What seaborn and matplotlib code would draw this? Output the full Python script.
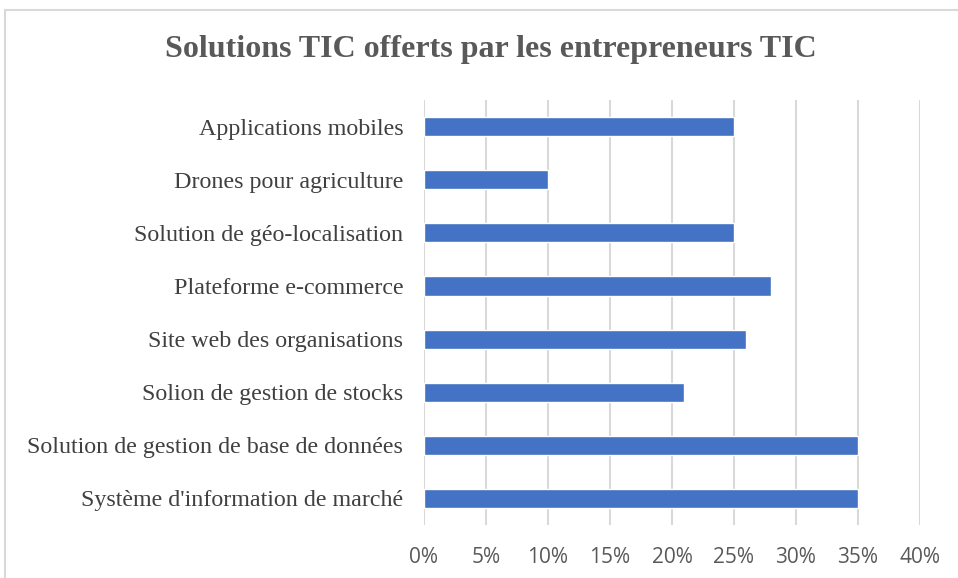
import matplotlib
matplotlib.use("Agg")
import matplotlib.pyplot as plt
import seaborn as sns
import pandas as pd
from matplotlib.patches import Rectangle
from matplotlib.ticker import FuncFormatter

categories = [
    "Applications mobiles",
    "Drones pour agriculture",
    "Solution de géo-localisation",
    "Plateforme e-commerce",
    "Site web des organisations",
    "Solion de gestion de stocks",
    "Solution de gestion de base de données",
    "Système d'information de marché",
]
values = [0.25, 0.10, 0.25, 0.28, 0.26, 0.21, 0.35, 0.35]
xticks = [0, 0.05, 0.10, 0.15, 0.20, 0.25, 0.30, 0.35, 0.40]

df = pd.DataFrame({"cat": categories, "val": values})

sns.set_theme(style="white")
plt.rcParams["font.family"] = ["Liberation Serif", "DejaVu Serif"]

fig = plt.figure(figsize=(9.58, 5.78), dpi=100)
ax = fig.add_axes([424/958, 1-525/578, 496/958, 425/578])

sns.barplot(data=df, x="val", y="cat", orient="h", color="#4472C4",
            saturation=1, width=0.36, ax=ax, zorder=3)

ax.set_xlim(0, 0.40)
ax.set_ylim(7.5, -0.5)
ax.set_xticks(xticks)
ax.xaxis.set_major_formatter(FuncFormatter(lambda v, p: f"{round(v*100)}%"))
ax.grid(axis="x", color="#d9d9d9", linewidth=1.5, zorder=0)
ax.grid(axis="y", visible=False)
for s in ax.spines.values():
    s.set_visible(False)
ax.set_xlabel("")
ax.set_ylabel("")
ax.tick_params(axis="both", length=0)
ax.tick_params(axis="x", pad=16)
ax.tick_params(axis="y", pad=15)
for lab in ax.get_xticklabels():
    lab.set_fontfamily(["Open Sans", "DejaVu Sans"])
    lab.set_fontsize(15)
    lab.set_color("#595959")
for lab in ax.get_yticklabels():
    lab.set_fontsize(17.3)
    lab.set_color("#404040")

fig.text(491/958, 1-50/578, "Solutions TIC offerts par les entrepreneurs TIC",
         ha="center", va="center", fontsize=23, fontweight="bold",
         color="#595959")

fig.patches.append(Rectangle((5/958, -0.2), 1.2, 1.2-10/578,
                             transform=fig.transFigure, fill=False,
                             edgecolor="#d9d9d9", linewidth=1.5))

fig.savefig("out.png", dpi=100)
